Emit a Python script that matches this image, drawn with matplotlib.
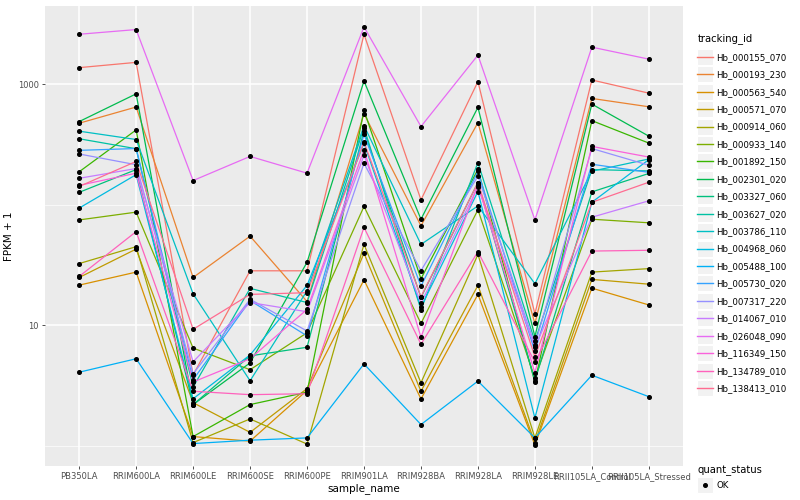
import numpy as np
import matplotlib.pyplot as plt
from matplotlib.lines import Line2D
from matplotlib.patches import Rectangle
from matplotlib.legend_handler import HandlerLine2D

samples = ["PB350LA", "RRIM600LA", "RRIM600LE", "RRIM600SE", "RRIM600PE",
           "RRIM901LA", "RRIM928BA", "RRIM928LA", "RRIM928LE",
           "RRII105LA_Control", "RRII105LA_Stressed"]

# FPKM + 1, one list per gene, in the sample order above
hb_000155_070 = [1372, 1517, 3.9, 28.4, 28.4, 2594, 110, 1052, 12.5, 1084, 843]
hb_000193_230 = [475, 647, 25.0, 55, 15.8, 570, 67, 480, 10.4, 762, 650]
hb_000563_540 = [21.6, 27.7, 1.20, 1.10, 2.9, 23.9, 2.46, 18.1, 1.02, 20.4, 14.8]
hb_000571_070 = [25.0, 43, 2.29, 1.30, 3.0, 39.7, 2.85, 21.5, 1.07, 24.1, 22.0]
hb_000914_060 = [32.6, 45, 1.07, 1.68, 1.04, 47, 3.35, 38.8, 1.17, 27.7, 29.6]
hb_000933_140 = [75, 87, 6.5, 4.3, 8.7, 97, 10.4, 91, 3.66, 76, 71]
hb_001892_150 = [188, 418, 1.20, 2.21, 2.8, 608, 24.4, 197, 3.38, 499, 325]
hb_002301_020 = [490, 832, 2.21, 4.9, 33.4, 1064, 76, 643, 8.1, 684, 371]
hb_003327_060 = [127, 196, 2.21, 5.6, 6.6, 410, 17.1, 153, 3.48, 128, 182]
hb_003627_020 = [353, 292, 3.09, 20.3, 15.5, 437, 13.5, 224, 7.4, 196, 191]
hb_003786_110 = [408, 348, 18.3, 3.48, 19.4, 454, 47, 98, 22.2, 190, 240]
hb_004968_060 = [94, 178, 2.47, 5.7, 21.5, 323, 14.2, 129, 1.71, 105, 237]
hb_005488_100 = [4.1, 5.3, 1.05, 1.12, 1.17, 4.8, 1.51, 3.46, 1.17, 3.87, 2.57]
hb_005730_020 = [283, 293, 3.55, 16.1, 8.2, 383, 21.2, 189, 6.1, 217, 186]
hb_007317_220 = [264, 215, 3.97, 16.5, 9.0, 221, 28.5, 173, 6.9, 293, 213]
hb_014067_010 = [166, 200, 5.0, 15.5, 13.0, 257, 15.3, 141, 6.6, 79, 108]
hb_026048_090 = [2594, 2838, 159, 252, 183, 2985, 446, 1742, 75, 2028, 1614]
hb_116349_150 = [145, 183, 3.40, 5.3, 13.6, 286, 8.0, 147, 4.05, 305, 249]
hb_134789_010 = [25.5, 60, 2.85, 2.67, 2.72, 65, 7.0, 40.9, 4.96, 41.4, 42]
hb_138413_010 = [142, 229, 9.3, 18.1, 18.7, 331, 17.3, 153, 5.5, 105, 154]

tracking_ids = ["Hb_000155_070", "Hb_000193_230", "Hb_000563_540", "Hb_000571_070",
                "Hb_000914_060", "Hb_000933_140", "Hb_001892_150", "Hb_002301_020",
                "Hb_003327_060", "Hb_003627_020", "Hb_003786_110", "Hb_004968_060",
                "Hb_005488_100", "Hb_005730_020", "Hb_007317_220", "Hb_014067_010",
                "Hb_026048_090", "Hb_116349_150", "Hb_134789_010", "Hb_138413_010"]
series = [hb_000155_070, hb_000193_230, hb_000563_540, hb_000571_070,
          hb_000914_060, hb_000933_140, hb_001892_150, hb_002301_020,
          hb_003327_060, hb_003627_020, hb_003786_110, hb_004968_060,
          hb_005488_100, hb_005730_020, hb_007317_220, hb_014067_010,
          hb_026048_090, hb_116349_150, hb_134789_010, hb_138413_010]

# ggplot default hue palette, 20 levels
colors = ["#F8766D", "#EA8331", "#D89000", "#C09B00", "#A3A500", "#7CAE00",
          "#39B600", "#00BB4E", "#00BF7D", "#00C1A3", "#00BFC4", "#00BAE0",
          "#00B0F6", "#35A2FF", "#9590FF", "#C77CFF", "#E76BF3", "#FA62DB",
          "#FF62BC", "#FF6C91"]


class KeyHandler(HandlerLine2D):
    # grey key box behind each legend glyph, like ggplot
    def create_artists(self, legend, orig, xd, yd, w, h, fontsize, trans):
        arts = super().create_artists(legend, orig, xd, yd, w, h,
                                      fontsize, trans)
        kh = 11.5
        bg = Rectangle((-xd, -yd + h / 2 - kh / 2), w, kh, fc="#F2F2F2",
                       ec="white", lw=0.8, transform=trans, zorder=0)
        return [bg] + arts


fig = plt.figure(figsize=(8, 5), dpi=100)
ax = fig.add_axes([45 / 800, 34 / 500, 638 / 800, 460 / 500])
ax.set_facecolor("#EBEBEB")

x = np.arange(len(samples))
for vals, col in zip(series, colors):
    ax.plot(x, vals, color=col, lw=0.9, zorder=3)
for vals in series:
    ax.plot(x, vals, "o", color="black", ms=2.6, zorder=4)

ax.set_yscale("log")
allv = np.log10(np.concatenate([np.array(s, float) for s in series]))
lo, hi = allv.min(), allv.max()
pad = (hi - lo) * 0.05
ax.set_ylim(10 ** (lo - pad), 10 ** (hi + pad))
ax.set_xlim(-0.6, len(samples) - 0.4)

ax.set_yticks([10, 1000])
ax.set_yticklabels(["10", "1000"])
ax.set_yticks([1, 100], minor=True)
ax.yaxis.set_minor_formatter(plt.NullFormatter())
ax.set_xticks(x)
ax.set_xticklabels(samples)

ax.grid(which="major", color="white", lw=1.1, zorder=0)
ax.grid(which="minor", axis="y", color="white", lw=0.5, zorder=0)
ax.set_axisbelow(True)
for s in ax.spines.values():
    s.set_visible(False)
ax.tick_params(which="major", length=2.5, width=0.6, color="#333333",
               labelsize=6, labelcolor="#4D4D4D", pad=2)
ax.tick_params(which="minor", length=0)

ax.set_xlabel("sample_name", fontsize=7.5, labelpad=1)
ax.set_ylabel("FPKM + 1", fontsize=7.5, labelpad=3)

handles = [Line2D([], [], color=c, lw=1.0) for c in colors]
leg1 = fig.legend(handles, tracking_ids, loc="upper left",
                  bbox_to_anchor=(694 / 800, 1 - 30 / 500), frameon=False,
                  title="tracking_id", fontsize=6.2, title_fontsize=7.2,
                  handlelength=1.75, labelspacing=0.98, handletextpad=0.45,
                  borderaxespad=0, handler_map={Line2D: KeyHandler()})
leg1._legend_box.align = "left"

h2 = [Line2D([], [], ls="", marker="o", color="black", ms=2.6)]
leg2 = fig.legend(h2, ["OK"], loc="upper left",
                  bbox_to_anchor=(694 / 800, 1 - 462 / 500), frameon=False,
                  title="quant_status", fontsize=6.2, title_fontsize=7.2,
                  handlelength=1.75, handletextpad=0.45, borderaxespad=0,
                  handler_map={Line2D: KeyHandler()})
leg2._legend_box.align = "left"

fig.savefig("out.png", dpi=100)
